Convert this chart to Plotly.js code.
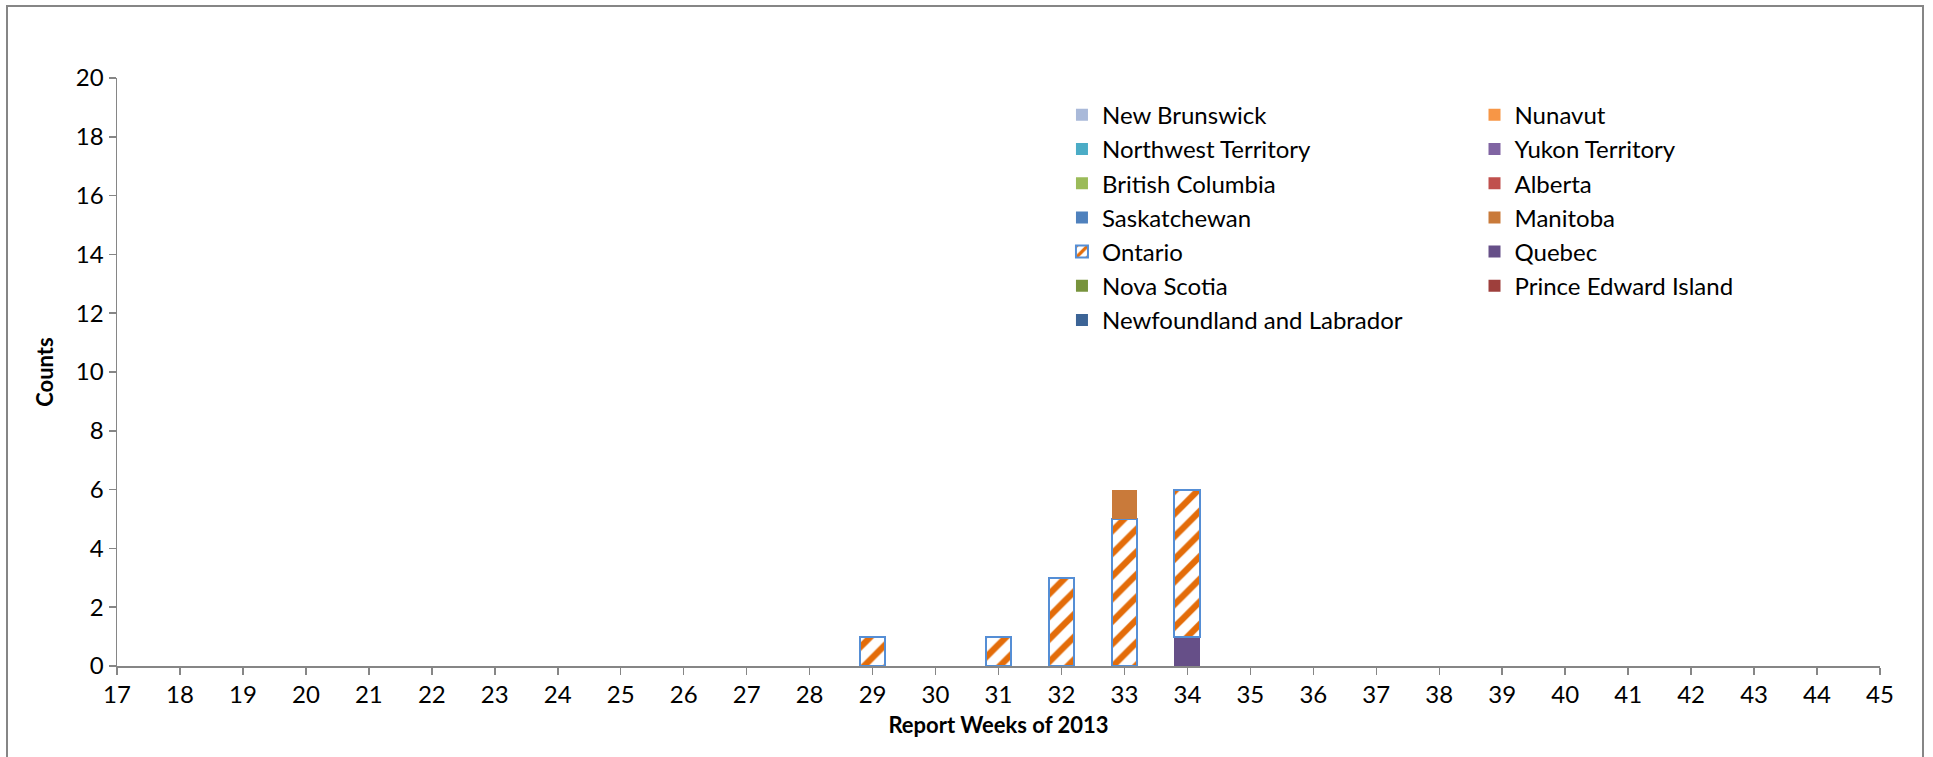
<!DOCTYPE html>
<html>
<head>
<meta charset="utf-8">
<script src="https://cdn.plot.ly/plotly-3.0.1.min.js"></script>
<style>
  html, body { margin: 0; padding: 0; background: #ffffff; }
  #chart { width: 1933px; height: 757px; }
</style>
</head>
<body>
<div id="chart"></div>
<script>
// Report weeks of 2013
var weeks = [17,18,19,20,21,22,23,24,25,26,27,28,29,30,31,32,33,34,35,36,37,38,39,40,41,42,43,44,45];

// Counts per province (stack order: bottom first)
var quebec       = [0,0,0,0,0,0,0,0,0,0,0,0,0,0,0,0,0,1,0,0,0,0,0,0,0,0,0,0,0];
var ontario      = [0,0,0,0,0,0,0,0,0,0,0,0,1,0,1,3,5,5,0,0,0,0,0,0,0,0,0,0,0];
var manitoba     = [0,0,0,0,0,0,0,0,0,0,0,0,0,0,0,0,1,0,0,0,0,0,0,0,0,0,0,0,0];
var newBrunswick = [0,0,0,0,0,0,0,0,0,0,0,0,0,0,0,0,0,0,0,0,0,0,0,0,0,0,0,0,0];
var nunavut      = [0,0,0,0,0,0,0,0,0,0,0,0,0,0,0,0,0,0,0,0,0,0,0,0,0,0,0,0,0];
var northwest    = [0,0,0,0,0,0,0,0,0,0,0,0,0,0,0,0,0,0,0,0,0,0,0,0,0,0,0,0,0];
var yukon        = [0,0,0,0,0,0,0,0,0,0,0,0,0,0,0,0,0,0,0,0,0,0,0,0,0,0,0,0,0];
var britishCol   = [0,0,0,0,0,0,0,0,0,0,0,0,0,0,0,0,0,0,0,0,0,0,0,0,0,0,0,0,0];
var alberta      = [0,0,0,0,0,0,0,0,0,0,0,0,0,0,0,0,0,0,0,0,0,0,0,0,0,0,0,0,0];
var saskatchewan = [0,0,0,0,0,0,0,0,0,0,0,0,0,0,0,0,0,0,0,0,0,0,0,0,0,0,0,0,0];
var novaScotia   = [0,0,0,0,0,0,0,0,0,0,0,0,0,0,0,0,0,0,0,0,0,0,0,0,0,0,0,0,0];
var pei          = [0,0,0,0,0,0,0,0,0,0,0,0,0,0,0,0,0,0,0,0,0,0,0,0,0,0,0,0,0];
var newfoundland = [0,0,0,0,0,0,0,0,0,0,0,0,0,0,0,0,0,0,0,0,0,0,0,0,0,0,0,0,0];

var yTicks = [0,2,4,6,8,10,12,14,16,18,20];

var FONT = "Lato, 'Open Sans', sans-serif";

// zero counts are not drawn as bars
function nz(vals) { return vals.map(function (v) { return v === 0 ? null : v; }); }

function solid(name, vals, color, legendId, rank) {
  return {
    type: 'bar', name: name, x: weeks, y: nz(vals),
    marker: { color: color, line: { width: 0 } },
    legend: legendId, legendrank: rank, legendgroup: name,
    hoverinfo: 'x+y+name'
  };
}

var traces = [
  solid('Quebec', quebec, '#664F88', 'legend2', 5),
  {
    type: 'bar', name: 'Ontario', x: weeks, y: nz(ontario),
    marker: {
      color: '#FFFFFF',
      line: { color: '#558ED5', width: 2 },
      pattern: { shape: '/', fgcolor: '#E36C09', bgcolor: '#FFFFFF', size: 16, solidity: 0.4, fillmode: 'replace' }
    },
    legend: 'legend', legendrank: 5, legendgroup: 'Ontario'
  },
  solid('Manitoba', manitoba, '#C97A3A', 'legend2', 4),
  solid('New Brunswick', newBrunswick, '#A9B9D9', 'legend', 1),
  solid('Northwest Territory', northwest, '#4BACC6', 'legend', 2),
  solid('British Columbia', britishCol, '#9BBB59', 'legend', 3),
  solid('Saskatchewan', saskatchewan, '#4F81BD', 'legend', 4),
  solid('Nova Scotia', novaScotia, '#77933C', 'legend', 6),
  solid('Newfoundland and Labrador', newfoundland, '#3C6496', 'legend', 7),
  solid('Nunavut', nunavut, '#F79646', 'legend2', 1),
  solid('Yukon Territory', yukon, '#8064A2', 'legend2', 2),
  solid('Alberta', alberta, '#C0504D', 'legend2', 3),
  solid('Prince Edward Island', pei, '#9E3F3C', 'legend2', 6)
];

var legendCommon = {
  font: { family: FONT, size: 24, color: '#000000' },
  bgcolor: 'rgba(0,0,0,0)',
  borderwidth: 0,
  traceorder: 'grouped',
  tracegroupgap: 0,
  xanchor: 'left', yanchor: 'top',
  itemclick: false, itemdoubleclick: false
};

var layout = {
  width: 1933, height: 757,
  margin: { l: 117, r: 53, t: 78, b: 91, pad: 0 },
  paper_bgcolor: '#FFFFFF', plot_bgcolor: '#FFFFFF',
  font: { family: FONT, size: 24, color: '#000000' },
  barmode: 'stack',
  bargap: 0.59,
  showlegend: true,
  legend: Object.assign({}, legendCommon, { x: 0.536, y: 0.975 }),
  legend2: Object.assign({}, legendCommon, { x: 0.770, y: 0.975 }),
  xaxis: {
    range: [17, 45],
    tickmode: 'array', tickvals: weeks, ticktext: weeks.map(String),
    ticks: 'outside', ticklen: 7, tickcolor: '#868686', tickwidth: 1.5,
    showline: true, linecolor: '#868686', linewidth: 1.5,
    showgrid: false, zeroline: false,
    tickfont: { family: FONT, size: 24, color: '#000000' },
    title: { text: 'Report Weeks of 2013', font: { family: FONT, size: 22, color: '#000000', weight: 'bold' }, standoff: 10 },
    fixedrange: true
  },
  yaxis: {
    range: [0, 20],
    tickmode: 'array', tickvals: yTicks, ticktext: yTicks.map(String),
    ticks: 'outside', ticklen: 7, tickcolor: '#868686', tickwidth: 1.5,
    showline: true, linecolor: '#868686', linewidth: 1.5,
    showgrid: false, zeroline: false,
    tickfont: { family: FONT, size: 24, color: '#000000' },
    title: { text: 'Counts', font: { family: FONT, size: 22, color: '#000000', weight: 'bold' }, standoff: 16 },
    fixedrange: true
  },
  shapes: [{
    type: 'rect', xref: 'paper', yref: 'paper',
    x0: (7 - 117) / 1763, x1: (1923 - 117) / 1763,
    y0: (666 - 770) / 588, y1: (666 - 6) / 588,
    line: { color: '#868686', width: 2 }, fillcolor: 'rgba(0,0,0,0)', layer: 'below'
  }]
};

Plotly.newPlot('chart', traces, layout, { displayModeBar: false, staticPlot: true });
</script>
</body>
</html>
